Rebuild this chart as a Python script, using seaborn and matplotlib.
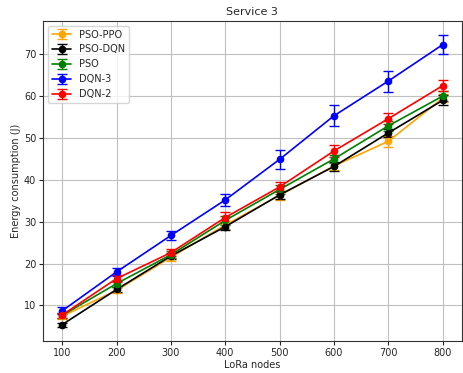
import matplotlib
matplotlib.use("Agg")
import matplotlib.pyplot as plt
import seaborn as sns

# LoRa node counts
nodes = [100, 200, 300, 400, 500, 600, 700, 800]

# energy consumption per method (J)
pso_ppo = [7.4, 13.6, 21.5, 29.2, 36.3, 43.3, 49.2, 59.5]
pso_dqn = [5.4, 13.8, 21.8, 28.8, 36.4, 43.2, 51.2, 59.0]
pso = [7.6, 15.2, 22.1, 30.3, 37.7, 45.0, 52.9, 60.0]
dqn_3 = [8.7, 18.0, 26.7, 35.2, 44.9, 55.3, 63.6, 72.3]
dqn_2 = [7.7, 16.4, 22.6, 31.0, 38.3, 46.9, 54.6, 62.5]

# error bar half-widths
pso_ppo_err = [0.6, 0.7, 0.8, 1.0, 1.0, 1.0, 1.3, 1.0]
pso_dqn_err = [0.5, 0.7, 0.7, 0.9, 1.0, 1.0, 1.0, 1.2]
pso_err = [0.6, 0.7, 0.8, 1.0, 1.0, 1.0, 1.2, 1.2]
dqn_3_err = [0.8, 0.9, 1.0, 1.5, 2.2, 2.5, 2.5, 2.2]
dqn_2_err = [0.6, 0.8, 0.8, 1.2, 1.2, 1.5, 1.3, 1.3]

series = [
    ("PSO-PPO", pso_ppo, pso_ppo_err, "orange"),
    ("PSO-DQN", pso_dqn, pso_dqn_err, "black"),
    ("PSO", pso, pso_err, "green"),
    ("DQN-3", dqn_3, dqn_3_err, "blue"),
    ("DQN-2", dqn_2, dqn_2_err, "red"),
]

sns.set_style("whitegrid", {"axes.edgecolor": "#333333", "grid.color": "#c0c0c0"})
plt.rcParams["font.family"] = ["DejaVu Sans"]

fig, ax = plt.subplots(figsize=(4.64, 3.73), dpi=100)

for name, vals, err, col in series:
    ax.errorbar(nodes, vals, yerr=err, label=name, color=col, marker="o",
                markersize=4.5, linewidth=1.2, capsize=3.5, elinewidth=1.0)

ax.set_xticks(nodes)
ax.set_title("Service 3", fontsize=8, pad=4)
ax.set_xlabel("LoRa nodes", fontsize=7, labelpad=1)
ax.set_ylabel("Energy consumption (J)", fontsize=7, labelpad=2)
ax.tick_params(labelsize=7, length=3, pad=2, left=True, bottom=True)
for s in ax.spines.values():
    s.set_linewidth(0.8)
ax.legend(loc="upper left", fontsize=7, frameon=True)

plt.subplots_adjust(left=0.093, right=0.995, top=0.944, bottom=0.085)
plt.savefig("out.png", dpi=100)
